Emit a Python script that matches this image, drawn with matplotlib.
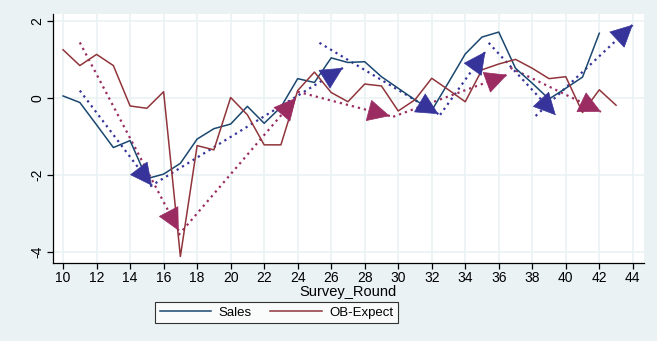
import matplotlib
matplotlib.use("Agg")
import matplotlib.pyplot as plt

plt.rcParams['font.family'] = ['Liberation Sans', 'DejaVu Sans']

# Survey rounds and the two series
rounds_sales = list(range(10, 43))
sales = [0.05, -0.12, -0.70, -1.29, -1.11, -2.10, -1.98, -1.70, -1.07, -0.80,
         -0.68, -0.22, -0.66, -0.24, 0.50, 0.40, 1.04, 0.92, 0.94, 0.55,
         0.25, -0.05, -0.33, 0.40, 1.14, 1.58, 1.71, 0.77, 0.38, -0.03,
         0.25, 0.54, 1.68]

rounds_ob = list(range(10, 44))
ob_expect = [1.25, 0.84, 1.13, 0.84, -0.21, -0.27, 0.16, -4.12, -1.24, -1.35,
             0.01, -0.44, -1.22, -1.22, 0.19, 0.67, 0.14, -0.10, 0.36, 0.31,
             -0.34, -0.05, 0.51, 0.21, -0.10, 0.73, 0.88, 1.00, 0.77, 0.50,
             0.55, -0.38, 0.21, -0.19]

# trend arrows (start x, start y, end x, end y)
sales_arrows = [(11.0, 0.19, 15.3, -2.28),
                (15.2, -2.30, 26.7, 0.78),
                (25.3, 1.43, 32.4, -0.42),
                (32.5, -0.44, 35.2, 1.2),
                (35.4, 1.43, 39.4, -0.45),
                (38.2, -0.47, 44.0, 1.9)]
ob_arrows = [(11.0, 1.44, 16.9, -3.45),
             (16.9, -3.56, 23.9, 0.0),
             (24.0, 0.16, 29.5, -0.47),
             (29.7, -0.49, 36.5, 0.6),
             (36.7, 0.78, 42.1, -0.36)]

bg = '#EAF2F3'
c_sales = '#1A476F'
c_ob = '#90353B'
c_sales_arr = '#36349A'
c_ob_arr = '#9A2C62'

fig = plt.figure(figsize=(6.57, 3.41), dpi=100, facecolor=bg)
ax = fig.add_axes([0.0807, 0.2287, 0.8993, 0.7303])
ax.set_facecolor('white')

ax.set_xlim(9.4, 44.66)
ax.set_ylim(-4.29, 2.18)
ax.set_xticks(range(10, 45, 2))
ax.set_yticks([-4, -2, 0, 2])
ax.set_yticklabels(['-4', '-2', '0', '2'], rotation=90, va='center')
ax.grid(True, color=bg, linewidth=1.2)
ax.set_axisbelow(True)
for s in ['top', 'right']:
    ax.spines[s].set_visible(False)
for s in ['left', 'bottom']:
    ax.spines[s].set_linewidth(0.9)
ax.tick_params(direction='out', length=4, width=0.9, labelsize=10, colors='black', pad=2)

def draw_arrows(arrows, color):
    for x0, y0, x1, y1 in arrows:
        ax.plot([x0, x1], [y0, y1], linestyle=(0, (1, 1.8)), color=color, linewidth=1.6)
        dx, dy = x1 - x0, y1 - y0
        ax.annotate('', xy=(x1, y1), xytext=(x1 - dx * 0.01, y1 - dy * 0.01),
                    arrowprops=dict(arrowstyle='-|>,head_length=1.5,head_width=0.75',
                                    color=color, lw=0.5, shrinkA=0, shrinkB=0))

draw_arrows(sales_arrows, c_sales_arr)
draw_arrows(ob_arrows, c_ob_arr)

ax.plot(rounds_sales, sales, color=c_sales, linewidth=1.1, label='Sales')
ax.plot(rounds_ob, ob_expect, color=c_ob, linewidth=1.1, label='OB-Expect')

ax.set_xlabel('Survey_Round', fontsize=10.5, labelpad=0)

leg = fig.legend(loc='center', bbox_to_anchor=(0.421, 0.0836), ncol=2,
                 fontsize=9.5, frameon=True, fancybox=False, edgecolor='black',
                 handlelength=3.9, columnspacing=1.4, handletextpad=0.55,
                 borderpad=0.35, borderaxespad=0)
leg.get_frame().set_linewidth(0.8)

fig.savefig('out.png', dpi=100, facecolor=bg)
